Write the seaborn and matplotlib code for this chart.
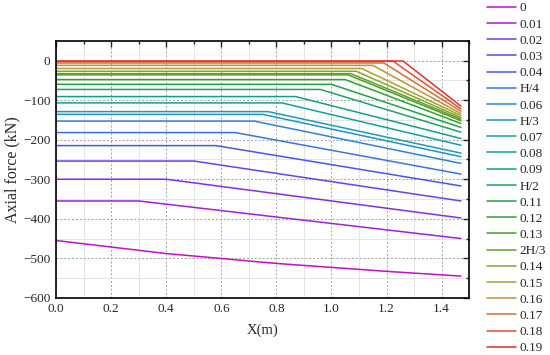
import matplotlib
matplotlib.use('Agg')
import matplotlib.pyplot as plt
import seaborn as sns
import pandas as pd
from matplotlib.ticker import MultipleLocator

# Case labels (legend order)
labels = ['0', '0.01', '0.02', '0.03', '0.04', 'H/4', '0.06', 'H/3', '0.07', '0.08', '0.09',
          'H/2', '0.11', '0.12', '0.13', '2H/3', '0.14', '0.15', '0.16', '0.17', '0.18', '0.19']

# Flat level (kN), x where the decline starts (m), value at the end of the pile (kN)
flat_level = [None, -355, -300, -254, -215, -182, -153, -136, -129, -107, -91,
              -73, -60, -48, -36, -33, -27, -20, -12, -6, -2, -1]
break_x = [None, 0.30, 0.40, 0.50, 0.58, 0.65, 0.72, 0.75, 0.77, 0.82, 0.87,
           0.96, 1.00, 1.05, 1.06, 1.07, 1.09, 1.11, 1.15, 1.19, 1.225, 1.26]
end_value = [None, -450, -398, -355, -317, -287, -260, -243, -234, -214, -197,
             -181, -169, -159, -152, -148, -144, -139, -134, -128, -122, -115]
x_end = 1.47

# Case "0" has no flat part
zero_x = [0.0, 0.4, 0.8, 1.2, 1.47]
zero_y = [-455, -488, -513, -533, -545]

colors = ['#c010c8', '#a020d8', '#8030e0', '#6a40e8', '#4a55e8', '#3f70e0', '#2f82d4',
          '#2292c0', '#14a0b2', '#10a0a0', '#12a084', '#1ea066', '#22a048', '#2ea032',
          '#44a024', '#62a024', '#84a42c', '#a4a430', '#b89434', '#c87434', '#d85434', '#e03030']

rows = []
for i, lab in enumerate(labels):
    if i == 0:
        pts = list(zip(zero_x, zero_y))
    else:
        pts = [(0.0, flat_level[i]), (break_x[i], flat_level[i]), (x_end, end_value[i])]
    for k, (xv, yv) in enumerate(pts):
        rows.append({'case': lab, 'order': k, 'x': xv, 'y': yv})
df = pd.DataFrame(rows)

sns.set_style('white')
plt.rcParams['font.family'] = ['Liberation Serif', 'DejaVu Serif']

fig = plt.figure(figsize=(5.5, 3.55), dpi=100)
ax = fig.add_axes([0.102, 0.161, 0.751, 0.724])

sns.lineplot(data=df, x='x', y='y', hue='case', hue_order=labels, palette=colors,
             sort=False, estimator=None, units='case', linewidth=1.1, ax=ax, legend=True)

ax.set_xlim(0, 1.5)
ax.set_ylim(-600, 50)
ax.xaxis.set_minor_locator(MultipleLocator(0.1))
ax.yaxis.set_minor_locator(MultipleLocator(50))
ax.set_xticks([0, 0.2, 0.4, 0.6, 0.8, 1.0, 1.2, 1.4])
ax.set_xticklabels(['0.0', '0.2', '0.4', '0.6', '0.8', '1.0', '1.2', '1.4'])
ax.set_yticks([0, -100, -200, -300, -400, -500, -600])
ax.set_yticklabels(['0', '\u2212100', '\u2212200', '\u2212300', '\u2212400', '\u2212500', '\u2212600'])

ax.grid(which='major', color='#a0a0a0', linestyle=(0, (2, 2)), linewidth=0.7)
ax.grid(which='minor', color='#e4e4e4', linestyle='-', linewidth=0.7)
ax.set_axisbelow(True)
for s in ax.spines.values():
    s.set_color('black')
    s.set_linewidth(1.2)
ax.tick_params(which='both', direction='in', top=True, right=True, labelsize=9.5, pad=4)
ax.tick_params(which='major', length=4, width=1.0)
ax.tick_params(which='minor', length=2.5, width=1.0)

ax.set_xlabel('X(m)', fontsize=10.5, labelpad=6)
ax.set_ylabel('Axial force (kN)', fontsize=11.5, labelpad=2)

handles, lab_out = ax.get_legend_handles_labels()
ax.get_legend().remove()
fig.legend(handles, lab_out, loc='upper left', bbox_to_anchor=(0.885, 0.994), frameon=False,
           fontsize=9.5, handlelength=2.2, handletextpad=0.3, labelspacing=0.30,
           borderaxespad=0.0, borderpad=0.0)

fig.savefig('out.png', dpi=100)
